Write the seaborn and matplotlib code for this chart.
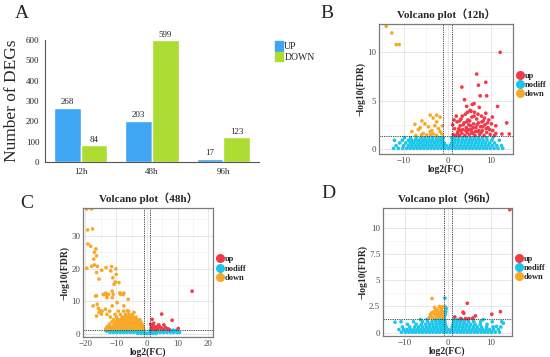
import pandas as pd
import matplotlib
matplotlib.use('Agg')
import matplotlib.pyplot as plt
from matplotlib.lines import Line2D
from matplotlib.patches import Patch
import seaborn as sns

# ---- panel A: number of DEGs ----
times = ['12h', '48h', '96h']
up_counts = [268, 203, 17]
down_counts = [84, 599, 123]

# ---- panel B: volcano 12h ----
b_up_x = [1.3, 1.6, 1.9, 2.2, 2.4, 2.7, 2.9, 3.1, 3.3, 3.5, 3.8, 4.0, 4.1, 4.3, 4.5, 4.7, 4.9, 5.0, 5.2, 5.4,
          5.6, 5.8, 6.0, 6.2, 6.3, 6.5, 6.7, 6.9, 7.1, 7.3, 7.4, 7.6, 7.8, 8.0, 8.2, 8.4, 8.6, 8.8, 9.0, 9.3,
          9.5, 9.8, 10.1, 10.4, 10.8, 11.1, 11.5, 12.1, 12.5, 13.6, 14.2, 6.7, 7.1, 8.8, 3.3, 7.5, 9.0, 3.9, 6.1, 4.4,
          4.6, 5.4, 1.2, 1.5, 2.0, 2.6, 3.0, 3.6, 4.2, 4.8, 5.1, 5.5, 5.9, 6.4, 6.8, 7.2, 7.7, 8.1, 8.5, 9.2,
          9.7, 10.3, 2.3, 3.4, 4.4, 5.3, 6.1, 7.0, 7.9, 8.9, 2.8, 5.7, 11.1]
b_up_y = [1.5, 2.1, 1.4, 2.8, 1.8, 1.4, 2.4, 3.1, 1.6, 2.0, 2.7, 1.4, 3.6, 2.2, 1.7, 3.0, 2.5, 1.5, 4.0, 2.0,
          3.3, 1.6, 2.6, 3.8, 1.4, 2.2, 3.1, 1.8, 2.7, 4.3, 1.5, 2.3, 3.4, 1.9, 2.9, 1.4, 2.5, 3.7, 1.7, 2.2,
          3.0, 1.5, 2.6, 1.9, 1.4, 2.4, 4.4, 10.0, 1.55, 2.7, 1.55, 7.75, 6.6, 6.9, 6.4, 5.5, 5.5, 5.1, 4.7, 4.4,
          3.8, 3.9, 2.5, 3.0, 3.4, 2.1, 1.9, 2.5, 1.9, 2.0, 2.9, 1.8, 2.2, 1.8, 2.5, 1.9, 1.7, 2.3, 3.2, 2.7,
          2.0, 3.3, 1.6, 3.4, 2.8, 2.4, 3.4, 3.6, 2.8, 2.1, 2.9, 4.6, 1.6]
b_down_x = [-14.1, -12.8, -11.8, -11.1, -4.0, -5.9, -3.3, -7.5, -5.2, -2.5, -1.7, -8.2, -6.7, -4.4, -3.6,
            -2.1, -5.6, -3.3, -1.7, -4.8, -2.5, -7.3, -1.3, -4.0, -2.9, -6.3, -2.5, -3.9, -6.0, -1.2]
b_down_y = [12.7, 12.0, 10.8, 10.8, 3.5, 2.9, 3.2, 2.55, 2.6, 2.8, 3.3, 1.8, 2.0, 2.3, 1.9,
            2.1, 1.6, 1.55, 1.8, 1.45, 1.4, 1.4, 1.55, 1.8, 2.4, 2.2, 3.5, 1.5, 1.45, 2.4]
b_nodiff_rows = [
    (0.06, [-12.4, -11.3, -10.3, -9.4, -8.6, -7.8, -7.0, -6.2, -5.4, -4.6, -3.8, -3.0, -2.2, -1.4, -0.6, 0.2,
            1.0, 1.8, 2.6, 3.4, 4.2, 5.0, 5.8, 6.6, 7.4, 8.2, 9.0, 9.8, 10.7, 11.6, 12.7]),
    (0.34, [-11.8, -10.1, -9.0, -8.2, -7.4, -6.6, -5.8, -5.0, -4.2, -3.4, -2.6, -1.8, -1.0, -0.3, 0.6, 1.4,
            2.2, 3.0, 3.8, 4.6, 5.4, 6.2, 7.0, 7.8, 8.6, 9.4, 10.3, 11.3, 12.4]),
    (0.62, [-11.0, -9.6, -8.6, -7.8, -7.0, -6.2, -5.4, -4.6, -3.8, -3.0, -2.2, -1.4, -0.7, 0.9, 1.6, 2.4,
            3.2, 4.0, 4.8, 5.6, 6.4, 7.2, 8.0, 8.8, 9.7, 10.8]),
    (0.90, [-12.2, -10.4, -9.0, -8.2, -7.4, -6.6, -5.8, -5.0, -4.2, -3.4, -2.6, -1.8, -1.1, 1.1, 1.8, 2.6,
            3.4, 4.2, 5.0, 5.8, 6.6, 7.4, 8.2, 9.1, 10.2, 11.9]),
    (1.16, [-9.9, -8.5, -7.2, -6.1, -5.2, -4.3, -3.4, -2.5, -1.7, -1.0, 1.0, 1.7, 2.6, 3.5, 4.4, 5.3,
            6.2, 7.1, 8.0, 9.0, 10.4]),
]

# ---- panel C: volcano 48h ----
c_up_x = [14.7, 4.8, 8.2, 10.2, 1.7, 1.4, 2.0, 2.5, 3.0, 3.5, 4.0, 4.6, 5.2, 6.0, 6.8, 1.8, 2.8, 3.8, 7.2, 1.2, 2.2, 5.5]
c_up_y = [13.1, 6.1, 4.2, 1.7, 4.5, 2.0, 2.6, 1.8, 2.2, 1.6, 2.4, 1.9, 1.5, 2.0, 1.6, 1.5, 1.4, 2.8, 1.4, 3.0, 3.3, 2.8]
c_down_x = [-19.6, -18.0, -19.3, -17.7, -19.2, -18.3, -16.6, -17.1, -16.4, -17.3, -19.6, -18.0, -17.1, -16.1,
            -16.4, -14.7, -13.3, -11.5, -11.8, -10.1, -10.0, -11.1, -10.3, -15.6, -16.4, -17.5, -15.8,
            -16.7, -16.2, -15.6, -14.0, -13.4, -13.0, -12.5, -11.3, -11.3, -9.7, -8.6, -7.5, -11.3, -13.5,
            -7.5, -6.4, -4.2, -9.1, -10.7, -14.2, -13.0, -11.0, -8.8, -7.7, -6.1, -16.4, -15.3, -14.8]
c_down_y = [38.2, 38.2, 31.8, 32.1, 27.5, 26.8, 26.0, 25.0, 23.9, 22.9, 20.1, 20.7, 21.1, 20.7,
            18.8, 19.5, 20.3, 20.6, 19.3, 19.9, 18.2, 17.2, 15.9, 16.8, 11.7, 8.6, 7.9,
            11.6, 9.1, 6.6, 12.1, 12.5, 11.1, 12.1, 13.1, 11.1, 9.6, 12.1, 12.5, 8.6, 7.6,
            8.6, 7.1, 6.6, 15.7, 15.2, 12.1, 11.8, 12.1, 12.6, 12.1, 10.6, 5.5, 7.1, 6.1]
c_down_rows = [
    (1.6, [-13.4, -12.5, -11.6, -10.7, -9.8, -8.9, -8.0, -7.1, -6.2, -5.3, -4.4, -3.5, -2.6, -1.7, -1.1]),
    (2.3, [-12.9, -12.0, -11.1, -10.2, -9.3, -8.4, -7.5, -6.6, -5.7, -4.8, -3.9, -3.0, -2.1, -1.3]),
    (3.0, [-12.2, -10.6, -9.7, -8.8, -7.9, -7.0, -6.1, -5.2, -4.3, -3.4, -2.5, -1.6]),
    (3.7, [-11.4, -10.1, -9.2, -8.3, -7.4, -6.5, -5.6, -4.7, -3.8, -2.9, -2.0]),
    (4.4, [-10.8, -9.5, -8.6, -7.7, -6.8, -5.9, -5.0, -4.1, -3.2, -2.3]),
    (5.2, [-11.9, -9.9, -8.1, -7.2, -6.3, -5.4, -4.5, -3.6]),
    (6.0, [-13.0, -10.4, -8.6, -7.0, -5.8, -4.7]),
    (7.0, [-14.6, -12.1, -9.3, -7.6, -6.0]),
]
c_nodiff_rows = [
    (0.2, [-3.0, -1.9, -0.8, 0.0, 0.8, 1.9, 3.0]),
    (0.5, [-12.0, -10.9, -9.8, -8.7, -7.6, -6.5, -5.4, -4.3, -3.2, -2.1, -1.0, 1.0, 2.1, 3.2, 4.3, 5.4,
           6.5, 7.6, 8.7, 9.8, 10.6]),
    (0.9, [-13.2, -12.2, -11.1, -10.0, -8.9, -7.8, -6.7, -5.6, -4.5, -3.4, -2.3, -1.2, 1.2, 2.3, 3.4, 4.5,
           5.6, 6.7, 7.8, 8.9, 10.0]),
    (1.2, [-12.8, -11.6, -10.4, -9.2, -8.0, -6.8, -5.6, -4.4, -3.2, -2.0, -1.1, 1.1, 2.0, 3.1, 4.2, 5.3,
           6.4, 7.5, 8.6, 9.7]),
]

# ---- panel D: volcano 96h ----
d_up_x = [14.4, 4.5, 3.7, 3.5, 1.6, 3.0, 4.1, 4.9, 6.4, 10.2, 12.2, 5.8]
d_up_y = [11.7, 2.8, 1.85, 1.95, 1.5, 1.35, 1.35, 1.35, 1.6, 1.76, 2.0, 1.4]
d_down_x = [-4.3, -3.9, -3.5, -3.1, -2.7, -2.3, -1.9, -1.5, -1.1, -1.2, -1.6, -2.0, -2.5, -2.9, -3.3, -3.7,
            -4.1, -1.0, -1.4, -2.2, -3.7, -3.1, -1.8, -2.6, -1.2]
d_down_y = [1.45, 1.6, 1.4, 1.75, 1.5, 1.9, 1.45, 1.7, 1.5, 2.0, 2.2, 2.5, 2.2, 2.1, 2.0, 1.9,
            1.75, 2.45, 2.45, 1.65, 3.25, 2.4, 1.95, 1.75, 1.75]
d_nodiff_x = [-0.8, -0.6, -0.5, -0.4, -0.6, -0.7, -12.3, 12.9, 11.3]
d_nodiff_y = [1.5, 1.75, 2.0, 2.3, 2.45, 3.3, 1.0, 0.9, 0.6]
d_nodiff_rows = [
    (0.05, [-10.8, -9.9, -9.1, -8.3, -7.5, -6.7, -5.9, -5.1, -4.3, -3.5, -2.7, -1.9, -1.1, -0.3, 0.5, 1.3,
            2.1, 2.9, 3.7, 4.5, 5.3, 6.1, 6.9, 7.7, 8.5, 9.3, 10.1, 11.0, 12.0]),
    (0.3, [-11.4, -10.3, -9.5, -8.7, -7.9, -7.1, -6.3, -5.5, -4.7, -3.9, -3.1, -2.3, -1.5, -0.7, 0.1, 0.9,
           1.7, 2.5, 3.3, 4.1, 4.9, 5.7, 6.5, 7.3, 8.1, 8.9, 9.7, 10.6, 11.7]),
    (0.55, [-10.6, -8.9, -7.7, -6.8, -5.9, -5.0, -4.2, -3.4, -2.6, -1.8, -1.0, -0.4, 1.0, 1.8, 2.6, 3.4,
            4.2, 5.0, 5.9, 6.8, 7.8, 9.0, 10.5, 12.3]),
    (0.8, [-9.4, -7.4, -6.2, -5.2, -4.3, -3.5, -2.7, -1.9, -1.2, -0.6, 1.2, 2.0, 2.8, 3.6, 4.4, 5.3, 6.3,
           7.5, 9.1]),
    (1.05, [-10.9, -8.0, -5.9, -4.7, -3.7, -2.8, -2.0, -1.3, -0.7, 1.3, 2.1, 2.9, 3.8, 4.8, 6.0, 7.6, 10.3,
            12.5]),
    (1.25, [-6.4, -4.9, -3.0, -2.1, -1.4, -0.8, 1.4, 2.3, 3.3, 4.5, 5.9, 8.2]),
]

volcano_colors = {'up': '#F2394A', 'nodiff': '#1BC6EB', 'down': '#F7A828'}
bar_colors = ['#3EA6F2', '#ADDC32']


def rows_to_xy(rows, xs=None, ys=None):
    xs = list(xs or [])
    ys = list(ys or [])
    for y, row in rows:
        xs += row
        ys += [y] * len(row)
    return xs, ys


def volcano_frame(nd, down, up):
    parts = []
    for name, (xs, ys) in [('nodiff', nd), ('down', down), ('up', up)]:
        parts.append(pd.DataFrame({'logFC': xs, 'logFDR': ys, 'group': name}))
    return pd.concat(parts, ignore_index=True)


def volcano(ax, df, title, xlim, ylim, xmajor, xminor, ymajor, ylabels, yminor):
    sns.scatterplot(data=df, x='logFC', y='logFDR', hue='group', palette=volcano_colors,
                    s=7, linewidth=0, ax=ax, legend=False)
    ax.set_xlim(xlim)
    ax.set_ylim(ylim)
    ax.set_xticks(xmajor)
    ax.set_xticks(xminor, minor=True)
    ax.set_yticks(ymajor)
    ax.set_yticklabels(ylabels)
    ax.set_yticks(yminor, minor=True)
    ax.grid(which='major', color='#E3E3E3', lw=0.6)
    ax.grid(which='minor', color='#F0F0F0', lw=0.4)
    ax.set_axisbelow(True)
    ax.tick_params(which='minor', length=0)
    ax.tick_params(which='major', length=1.5, width=0.5, color='#555555', labelsize=6.5,
                   labelcolor='#4D4D4D', pad=0.5)
    for s in ax.spines.values():
        s.set_color('#7A7A7A')
        s.set_linewidth(0.9)
    dash = dict(color='#333333', lw=0.6, ls=(0, (1.5, 1.2)))
    ax.axhline(1.3, **dash)
    ax.axvline(-1, **dash)
    ax.axvline(1, **dash)
    ax.set_title(title, fontsize=8, fontweight='bold', pad=4,
                 family=['Liberation Serif', 'Noto Sans CJK SC'])
    ax.set_xlabel('log2(FC)', fontsize=7, fontweight='bold', labelpad=-0.5)
    ax.set_ylabel('\u2212log10(FDR)', fontsize=7, fontweight='bold', labelpad=1)
    handles = [Line2D([], [], marker='o', ls='', color=volcano_colors[k], markersize=5.5)
               for k in ['up', 'nodiff', 'down']]
    ax.legend(handles, ['up', 'nodiff', 'down'], loc='center left', bbox_to_anchor=(0.99, 0.53),
              frameon=False, handletextpad=0.15, labelspacing=0.15, handlelength=0.9, borderpad=0,
              prop={'size': 6, 'weight': 'bold'})


sns.set_style('white')
plt.rcParams['font.family'] = ['Liberation Serif', 'Noto Sans CJK SC']

fig = plt.figure(figsize=(5.5, 3.57), dpi=100)

# ---- A ----
df_a = pd.DataFrame({'time': times * 2, 'count': up_counts + down_counts,
                     'type': ['UP'] * 3 + ['DOWN'] * 3})
ax_a = fig.add_axes([45 / 550, 195 / 357, 214 / 550, 122 / 357])
sns.barplot(data=df_a, x='time', y='count', hue='type', palette=bar_colors, width=0.75,
            saturation=1, ax=ax_a, legend=False)
for cont in ax_a.containers:
    ax_a.bar_label(cont, fontsize=6.5, padding=1)
ax_a.set_ylim(0, 600)
ax_a.set_xlim(-0.5, 2.5)
ax_a.set_yticks(range(0, 601, 100))
sns.despine(ax=ax_a)
for s in ['left', 'bottom']:
    ax_a.spines[s].set_color('#555555')
    ax_a.spines[s].set_linewidth(0.8)
ax_a.tick_params(length=3, width=0.6, color='#555555', labelsize=6.5, pad=1)
ax_a.set_xlabel('')
ax_a.set_ylabel('Number of DEGs', fontsize=12.5)
ax_a.yaxis.set_label_coords(-0.118, 0.5)
ax_a.legend([Patch(color=bar_colors[0]), Patch(color=bar_colors[1])], ['UP', 'DOWN'],
            loc='upper left', bbox_to_anchor=(1.05, 1.03), frameon=False, handlelength=0.9,
            handleheight=1.1, handletextpad=0.1, labelspacing=0.05, borderpad=0, fontsize=7)

# ---- B ----
ax_b = fig.add_axes([379 / 550, 203 / 357, 134 / 550, 130 / 357])
df_b = volcano_frame(rows_to_xy(b_nodiff_rows), (b_down_x, b_down_y), (b_up_x, b_up_y))
volcano(ax_b, df_b, 'Volcano plot\uff0812h\uff09', (-15.75, 15.05), (-0.52, 12.93),
        [-10, 0, 10], [-15, -5, 5, 15], [0, 5, 10], ['0', '5', '10'], [2.5, 7.5, 12.5])

# ---- C ----
ax_c = fig.add_axes([83 / 550, 20 / 357, 130 / 550, 129 / 357])
df_c = volcano_frame(rows_to_xy(c_nodiff_rows), rows_to_xy(c_down_rows, c_down_x, c_down_y),
                     (c_up_x, c_up_y))
volcano(ax_c, df_c, 'Volcano plot\uff0848h\uff09', (-20.8, 21.5), (-0.9, 38.5),
        [-20, -10, 0, 10, 20], [-15, -5, 5, 15], [0, 10, 20, 30], ['0', '10', '20', '30'],
        [5, 15, 25, 35])

# ---- D ----
ax_d = fig.add_axes([383 / 550, 21 / 357, 129 / 550, 128 / 357])
df_d = volcano_frame(rows_to_xy(d_nodiff_rows, d_nodiff_x, d_nodiff_y), (d_down_x, d_down_y),
                     (d_up_x, d_up_y))
volcano(ax_d, df_d, 'Volcano plot\uff0896h\uff09', (-15.1, 14.9), (-0.31, 11.86),
        [-10, 0, 10], [-15, -5, 5], [0, 2.5, 5, 7.5, 10], ['0', '2.5', '5', '7.5', '10'],
        [1.25, 3.75, 6.25, 8.75, 11.25])

for letter, (px, py) in {'A': (22, 14), 'B': (327, 13), 'C': (27, 203), 'D': (328, 193)}.items():
    fig.text(px / 550, 1 - py / 357, letter, fontsize=14, ha='center', va='center')

fig.savefig('out.png', dpi=100)
